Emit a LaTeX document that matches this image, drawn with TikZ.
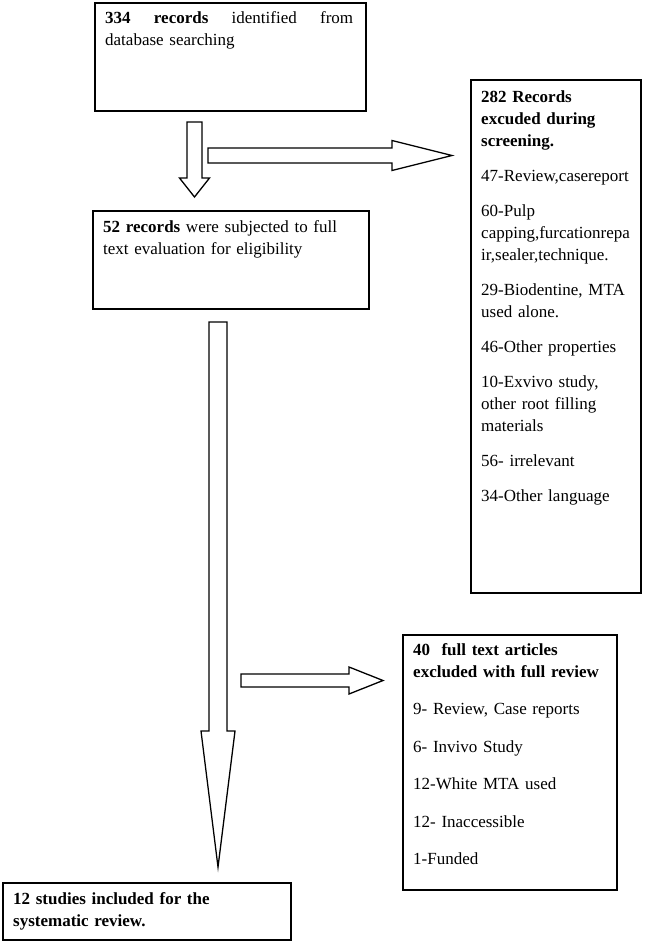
\documentclass[tikz,border=0pt]{standalone}
\usepackage{fontspec}
\setmainfont{Liberation Serif}
\usetikzlibrary{calc}

% hollow block arrow: from, to, shaft half width, head half width, head length
\newcommand{\fatarrow}[5]{%
  \coordinate (hb) at ($(#2)!#5!(#1)$);
  \draw[fat] ($(#1)!#3!90:(#2)$) -- ($(hb)!#3!90:(#2)$) -- ($(hb)!#4!90:(#2)$) -- (#2)
    -- ($(hb)!#4!-90:(#2)$) -- ($(hb)!#3!-90:(#2)$) -- ($(#1)!#3!-90:(#2)$) -- cycle;
}

\begin{document}
\begin{tikzpicture}[x=1pt,y=-1pt,
  box/.style={draw=black,line width=1.8pt,inner sep=0pt,anchor=north west},
  txt/.style={anchor=base west,inner sep=0pt,align=left,font=\fontsize{17}{22}\selectfont,
    execute at begin node={\setlength{\parindent}{0pt}}},
  fat/.style={draw=black,line width=1.3pt,fill=white,line join=miter}]
\useasboundingbox (0,0) rectangle (645,943);

\node[box,minimum width=271,minimum height=108] (ident) at (94,2) {};
\node[box,minimum width=170,minimum height=513] (screen) at (470,79) {};
\node[box,minimum width=276,minimum height=98] (elig) at (92,210) {};
\node[box,minimum width=214,minimum height=255] (fullex) at (402,634) {};
\node[box,minimum width=288,minimum height=57] (incl) at (2,882) {};

\node[txt,text width=248] (identtxt) at (105,23)
  {\textbf{334}\hfill\textbf{records}\hfill identified\hfill from\\database searching};
\node[txt,text width=160] (screentxt) at (481,102)
  {\textbf{282 Records}\\\textbf{excuded during}\\\textbf{screening.}\\[13pt]
   47-Review,casereport\\[13pt]
   60-Pulp\\capping,furcationrepa\\ir,sealer,technique.\\[13pt]
   29-Biodentine, MTA\\used alone.\\[13pt]
   46-Other properties\\[13pt]
   10-Exvivo study,\\other root filling\\materials\\[13pt]
   56- irrelevant\\[13pt]
   34-Other language};
\node[txt,text width=258] (eligtxt) at (103,232)
  {\textbf{52 records} were subjected to full\\text evaluation for eligibility};
\node[txt,text width=198] (fullextxt) at (413,655)
  {\textbf{40~ full text articles}\\\textbf{excluded with full review}\\[15.5pt]
   9- Review, Case reports\\[15.5pt]
   6- Invivo Study\\[15.5pt]
   12-White MTA used\\[15.5pt]
   12- Inaccessible\\[15.5pt]
   1-Funded};
\node[txt,text width=270] (incltxt) at (13,904)
  {\textbf{12 studies included for the}\\\textbf{systematic review.}};

\coordinate (a1s) at (194.5,122);
\coordinate (a1e) at (194.5,197);
\coordinate (a2s) at (208,155.5);
\coordinate (a2e) at (452,155.5);
\coordinate (a3s) at (218,322);
\coordinate (a3e) at (218,867);
\coordinate (a4s) at (241,680.5);
\coordinate (a4e) at (383,680.5);

\fatarrow{a1s}{a1e}{7.5pt}{15pt}{19pt}
\fatarrow{a2s}{a2e}{7.5pt}{15pt}{60pt}
\fatarrow{a3s}{a3e}{9pt}{17pt}{136pt}
\fatarrow{a4s}{a4e}{6.5pt}{13.5pt}{34pt}
\end{tikzpicture}
\end{document}
